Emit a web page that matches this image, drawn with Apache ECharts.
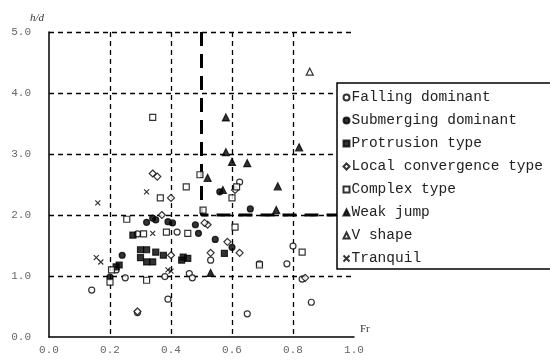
<!DOCTYPE html>
<html>
<head>
<meta charset="utf-8">
<script src="https://cdn.jsdelivr.net/npm/echarts@6/dist/echarts.min.js"></script>
<style>
  html, body { margin: 0; padding: 0; background: #fff; }
  #main { width: 550px; height: 362px; }
</style>
</head>
<body>
<div id="main"></div>
<script>
// 数据 (Fr, h/d)
var fallingDominant = [[0.14,0.77],[0.29,0.40],[0.39,0.62],[0.65,0.38],[0.86,0.57],[0.83,0.95],[0.80,1.49],[0.69,1.20],[0.78,1.20],[0.46,1.04],[0.47,0.97],[0.38,0.99],[0.25,0.97],[0.42,1.72],[0.29,1.69],[0.53,1.26],[0.625,2.54],[0.22,1.10]];
var submergingDominant = [[0.20,0.98],[0.24,1.34],[0.32,1.88],[0.35,1.92],[0.34,1.95],[0.405,1.87],[0.39,1.89],[0.48,1.84],[0.49,1.70],[0.545,1.60],[0.60,1.47],[0.66,2.10],[0.56,2.38]];
var protrusionType = [[0.22,1.15],[0.23,1.18],[0.275,1.67],[0.30,1.30],[0.30,1.43],[0.32,1.43],[0.32,1.23],[0.35,1.39],[0.34,1.23],[0.375,1.34],[0.435,1.26],[0.455,1.29],[0.44,1.31],[0.575,1.37]];
var localConvergence = [[0.34,2.68],[0.355,2.63],[0.40,2.28],[0.37,2.00],[0.52,1.84],[0.51,1.87],[0.585,1.56],[0.625,1.38],[0.61,2.41],[0.40,1.34],[0.53,1.38],[0.29,0.42],[0.84,0.97]];
var complexType = [[0.34,3.60],[0.255,1.93],[0.31,1.69],[0.365,2.28],[0.45,2.46],[0.495,2.66],[0.505,2.08],[0.61,1.80],[0.385,1.72],[0.455,1.70],[0.615,2.46],[0.69,1.18],[0.83,1.39],[0.32,0.93],[0.20,0.90],[0.205,1.10],[0.60,2.28]];
var weakJump = [[0.58,3.60],[0.58,3.03],[0.60,2.87],[0.65,2.85],[0.82,3.11],[0.75,2.47],[0.57,2.41],[0.52,2.61],[0.745,2.08],[0.53,1.05]];
var vShape = [[0.855,4.35]];
var tranquil = [[0.16,2.20],[0.155,1.30],[0.17,1.23],[0.32,2.38],[0.34,1.70],[0.39,1.10],[0.40,1.08]];
// 分界线
var boundary = [[0.5,5.0],[0.5,2.0],[1.0,2.0]];

var legendNames = ['Falling dominant','Submerging dominant','Protrusion type','Local convergence type','Complex type','Weak jump','V shape','Tranquil'];

var myChart = echarts.init(document.getElementById('main'));

function scatter(name, data, symbol, filled, size) {
    return {
        name: name,
        type: 'scatter',
        data: data,
        symbol: symbol,
        symbolSize: size || 6,
        itemStyle: {
            color: filled ? '#000' : '#fff',
            borderColor: '#000',
            borderWidth: 1.2
        }
    };
}

var crossPath = 'path://M0,0L10,10M10,0L0,10';

var option = {
    animation: false,
    grid: { left: 49, right: 196, top: 32, bottom: 25 },
    textStyle: { fontFamily: 'Liberation Mono' },
    xAxis: {
        type: 'value',
        min: 0, max: 1, interval: 0.2,
        name: 'Fr',
        nameGap: 6,
        nameTextStyle: { color: '#333', fontSize: 11, fontFamily: 'Liberation Serif', verticalAlign: 'bottom', padding: [0, 0, 2, 0] },
        axisLine: { lineStyle: { color: '#000', width: 1.5 } },
        axisTick: { show: false },
        axisLabel: { color: '#666', fontSize: 11, margin: 8, formatter: function (v) { return v.toFixed(1); } },
        splitLine: { show: true, showMinLine: false, showMaxLine: false, lineStyle: { color: '#000', type: [5, 4], width: 1.3 } }
    },
    yAxis: {
        type: 'value',
        min: 0, max: 5, interval: 1,
        name: 'h/d',
        nameGap: 8,
        nameTextStyle: { color: '#333', fontSize: 11, fontStyle: 'italic', fontFamily: 'Liberation Serif', align: 'right', padding: [0, 5, 0, 0] },
        axisLine: { show: true, lineStyle: { color: '#000', width: 1.5 } },
        axisTick: { show: false },
        axisLabel: { color: '#666', fontSize: 11, margin: 18, formatter: function (v) { return v.toFixed(1); } },
        splitLine: { show: true, showMinLine: false, lineStyle: { color: '#000', type: [5, 4], width: 1.3 } }
    },
    legend: {
        orient: 'vertical',
        left: 337, top: 83,
        data: legendNames,
        backgroundColor: '#fff',
        borderColor: '#000',
        borderWidth: 1.5,
        borderRadius: 0,
        padding: [7, 30, 3, 4],
        itemGap: 8.0,
        itemWidth: 6, itemHeight: 6,
        textStyle: { color: '#222', fontSize: 14.5, lineHeight: 14, fontFamily: 'Liberation Mono', padding: [0, 0, 0, -3] }
    },
    series: [
        scatter('Falling dominant', fallingDominant, 'circle', false, 6),
        scatter('Submerging dominant', submergingDominant, 'circle', true, 6),
        scatter('Protrusion type', protrusionType, 'rect', true, 6),
        scatter('Local convergence type', localConvergence, 'diamond', false, 7),
        scatter('Complex type', complexType, 'rect', false, 6),
        scatter('Weak jump', weakJump, 'triangle', true, 7),
        scatter('V shape', vShape, 'triangle', false, 7),
        {
            name: 'Tranquil',
            type: 'scatter',
            data: tranquil,
            symbol: crossPath,
            symbolSize: 5,
            itemStyle: { color: 'none', borderColor: '#000', borderWidth: 1.2 }
        },
        {
            name: 'boundary',
            type: 'line',
            data: boundary,
            symbol: 'none',
            silent: true,
            z: 1,
            lineStyle: { color: '#000', width: 3, type: [14, 8] }
        }
    ]
};

myChart.setOption(option);
</script>
</body>
</html>
